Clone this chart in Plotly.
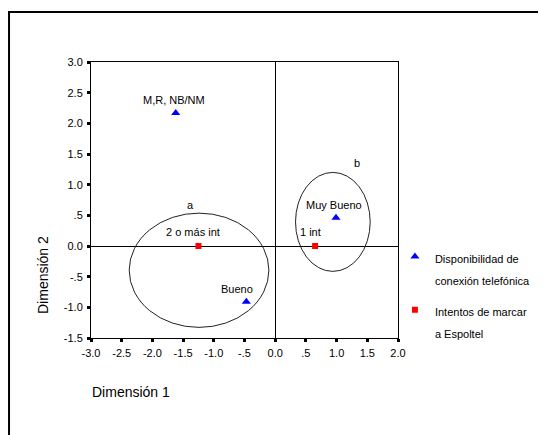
import plotly.graph_objects as go

# --- data ---
disp_labels = ["M,R, NB/NM", "Bueno", "Muy Bueno"]
disp_x = [-1.62, -0.47, 0.99]
disp_y = [2.17, -0.91, 0.46]

int_labels = ["2 o más int", "1 int"]
int_x = [-1.25, 0.65]
int_y = [0.0, 0.0]

ellipse_names = ["a", "b"]
ellipse_x0 = [-2.378, 0.331]
ellipse_x1 = [-0.103, 1.547]
ellipse_y0 = [-1.327, -0.414]
ellipse_y1 = [0.536, 1.2]
ellipse_label_x = [-1.38, 1.33]
ellipse_label_y = [0.67, 1.35]

legend_disp = ["Disponibilidad de", "conexión telefónica"]
legend_int = ["Intentos de marcar", "a Espoltel"]

x_tickvals = [-3.0, -2.5, -2.0, -1.5, -1.0, -0.5, 0.0, 0.5, 1.0, 1.5, 2.0]
x_ticktext = ["-3.0", "-2.5", "-2.0", "-1.5", "-1.0", "-.5", "0.0", ".5", "1.0", "1.5", "2.0"]
y_tickvals = [-1.5, -1.0, -0.5, 0.0, 0.5, 1.0, 1.5, 2.0, 2.5, 3.0]
y_ticktext = ["-1.5", "-1.0", "-.5", "0.0", ".5", "1.0", "1.5", "2.0", "2.5", "3.0"]

FONT = "Liberation Sans, Arial, sans-serif"


def legend_name(lines):
    return "<br>".join("<span style='font-size:11px'>%s</span>" % l for l in lines)


fig = go.Figure()
fig.add_trace(go.Scatter(
    x=disp_x, y=disp_y, mode="markers",
    marker=dict(symbol="triangle-up", color="#0000FF", size=8),
    name=legend_name(legend_disp), legendgroup="g1",
))
fig.add_trace(go.Scatter(
    x=int_x, y=int_y, mode="markers",
    marker=dict(symbol="square", color="#FF0000", size=6),
    name=legend_name(legend_int), legendgroup="g2",
))

# point labels
label_shift = {
    "M,R, NB/NM": (-2, 13),
    "Bueno": (-9, 13),
    "Muy Bueno": (-2, 13),
    "2 o más int": (-5, 14),
    "1 int": (-5, 14),
}
for lx, ly, lt in list(zip(disp_x, disp_y, disp_labels)) + list(zip(int_x, int_y, int_labels)):
    xs, ys = label_shift[lt]
    fig.add_annotation(x=lx, y=ly, text=lt, showarrow=False, xshift=xs, yshift=ys,
                       font=dict(family=FONT, size=11, color="#000"))

# ellipses
for x0, x1, y0, y1 in zip(ellipse_x0, ellipse_x1, ellipse_y0, ellipse_y1):
    fig.add_shape(type="circle", xref="x", yref="y", x0=x0, x1=x1, y0=y0, y1=y1,
                  line=dict(color="#222", width=1))
for nx, ny, nt in zip(ellipse_label_x, ellipse_label_y, ellipse_names):
    fig.add_annotation(x=nx, y=ny, text=nt, showarrow=False,
                       font=dict(family=FONT, size=11, color="#000"))

# outer frame
fig.add_shape(type="rect", xref="paper", yref="paper", x0=-0.267, x1=2.0, y0=-1.0, y1=1.181,
              line=dict(color="#000", width=2), layer="below")

# axis titles
fig.add_annotation(xref="paper", yref="paper", x=(131 - 91) / 307, y=(338 - 392) / 276,
                   xanchor="center", yanchor="middle",
                   text="Dimensión 1", showarrow=False,
                   font=dict(family=FONT, size=14, color="#000"))
fig.add_annotation(xref="paper", yref="paper", x=(43 - 91) / 307, y=(338 - 275) / 276,
                   xanchor="center", yanchor="middle",
                   text="Dimensión 2", showarrow=False, textangle=-90,
                   font=dict(family=FONT, size=14, color="#000"))

axis_common = dict(showgrid=False, showline=True, linecolor="#000", linewidth=1, mirror=True,
                   ticks="outside", ticklen=3, tickwidth=3, tickcolor="#000",
                   zeroline=True, zerolinecolor="#000", zerolinewidth=1,
                   ticklabelstandoff=2,
                   tickfont=dict(family=FONT, size=11, color="#000"))
fig.update_xaxes(range=[-3.0, 2.0], tickvals=x_tickvals, ticktext=x_ticktext, **axis_common)
fig.update_yaxes(range=[-1.5, 3.0], tickvals=y_tickvals, ticktext=y_ticktext, **axis_common)

fig.update_layout(
    width=546, height=435,
    margin=dict(l=83, r=156, t=54, b=105),
    plot_bgcolor="#fff", paper_bgcolor="#fff",
    font=dict(family=FONT, size=11, color="#000"),
    showlegend=True,
    legend=dict(x=0.99, y=(330 - 231) / 276, xanchor="left", yanchor="top",
                valign="top", font=dict(family=FONT, size=17, color="#000"),
                traceorder="grouped", tracegroupgap=6,
                itemwidth=30, bgcolor="rgba(0,0,0,0)"),
)

fig.write_html("out.html")
